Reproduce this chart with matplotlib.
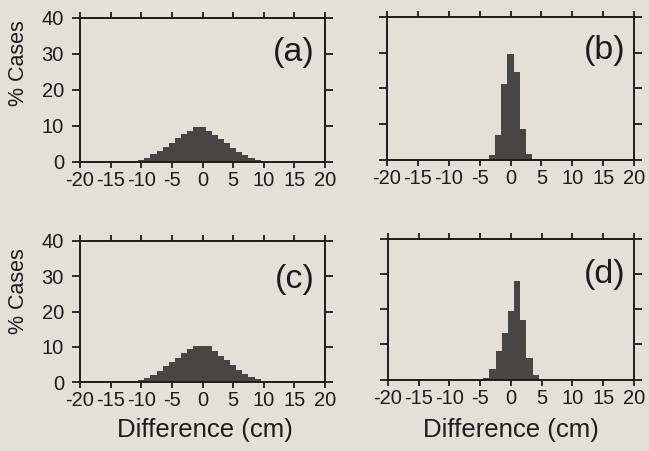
import numpy as np
import matplotlib
matplotlib.use("Agg")
import matplotlib.pyplot as plt

plt.rcParams['font.family'] = ['Liberation Sans', 'DejaVu Sans']

# Histogram data: bin centres (cm, 1-cm bins) and percentage of cases
a_centers = list(range(-12, 12))
a_values = [0.1, 0.3, 0.6, 1.2, 2.1, 3.1, 4.3, 5.4, 6.6, 7.7, 8.6, 9.8,
            9.8, 8.6, 7.5, 6.3, 5.2, 4.0, 2.9, 1.9, 1.2, 0.6, 0.3, 0.1]

b_centers = list(range(-3, 4))
b_values = [1.4, 6.8, 21.3, 29.7, 24.5, 8.7, 1.5]

c_centers = list(range(-12, 12))
c_values = [0.1, 0.3, 0.6, 1.2, 1.9, 3.1, 4.4, 5.6, 6.8, 8.1, 9.3, 10.3,
            10.3, 10.1, 8.9, 7.5, 6.1, 4.7, 3.5, 2.3, 1.4, 0.8, 0.4, 0.2]

d_centers = list(range(-4, 5))
d_values = [0.3, 3.0, 8.0, 13.3, 19.5, 28.0, 17.0, 6.0, 1.2]

panel_labels = ["(a)", "(b)", "(c)", "(d)"]
x_ticks = [-20, -15, -10, -5, 0, 5, 10, 15, 20]
x_ticklabels = ["-20", "-15", "-10", "-5", "0", "5", "10", "15", "20"]
y_ticks = [0, 10, 20, 30, 40]
y_ticklabels = ["0", "10", "20", "30", "40"]
y_label = "% Cases"
x_label = "Difference (cm)"

paper = "#e5e0d7"
ink = "#1c1c1c"
bar_color = "#484644"

W, H = 649, 451
fig = plt.figure(figsize=(W / 100, H / 100), dpi=100, facecolor=paper)

# axes rectangles in pixels: left, top, right, bottom
rects = [(80, 18, 325, 162), (387, 17, 634, 159.5),
         (80, 241, 325, 382), (388, 239, 634, 379.5)]
data = [(a_centers, a_values), (b_centers, b_values),
        (c_centers, c_values), (d_centers, d_values)]
# panel-letter placement (axes fraction: right edge, vertical centre)
label_pos = [(0.959, 0.757), (0.964, 0.768), (0.959, 0.73), (0.964, 0.744)]

for i, ((l, t, r, b), (cx, cy), lab, lp) in enumerate(
        zip(rects, data, panel_labels, label_pos)):
    ax = fig.add_axes([l / W, 1 - b / H, (r - l) / W, (b - t) / H])
    ax.set_facecolor(paper)
    ax.bar(cx, cy, width=1.0, color=bar_color, edgecolor="none", linewidth=0)
    ax.set_xlim(-20, 20)
    ax.set_ylim(0, 40)
    ax.set_xticks(x_ticks)
    ax.set_xticklabels(x_ticklabels)
    ax.set_yticks(y_ticks)
    if i % 2 == 0:
        ax.set_yticklabels(y_ticklabels)
    else:
        ax.set_yticklabels([])
    ax.tick_params(axis="both", which="both", direction="out", length=4.3,
                   width=1.3, colors=ink, labelsize=14.5,
                   top=True, right=True)
    ax.tick_params(axis="x", pad=2.5)
    ax.tick_params(axis="y", which="both", left=True, length=5.5, pad=6)
    for s in ax.spines.values():
        s.set_linewidth(1.4)
        s.set_color(ink)
    ax.text(lp[0], lp[1], lab, transform=ax.transAxes, ha="right",
            va="center", fontsize=24.5, color=ink)

# shared axis titles, placed in pixel coordinates
for yc in (63, 291):
    fig.text(18.5 / W, 1 - yc / H, y_label, rotation=90, ha="center",
             va="center", fontsize=15.5, color=ink)
for xc in (205, 511):
    fig.text(xc / W, 1 - 437 / H, x_label, ha="center", va="baseline",
             fontsize=18.5, color=ink)

fig.savefig("out.png", dpi=100, facecolor=paper)
